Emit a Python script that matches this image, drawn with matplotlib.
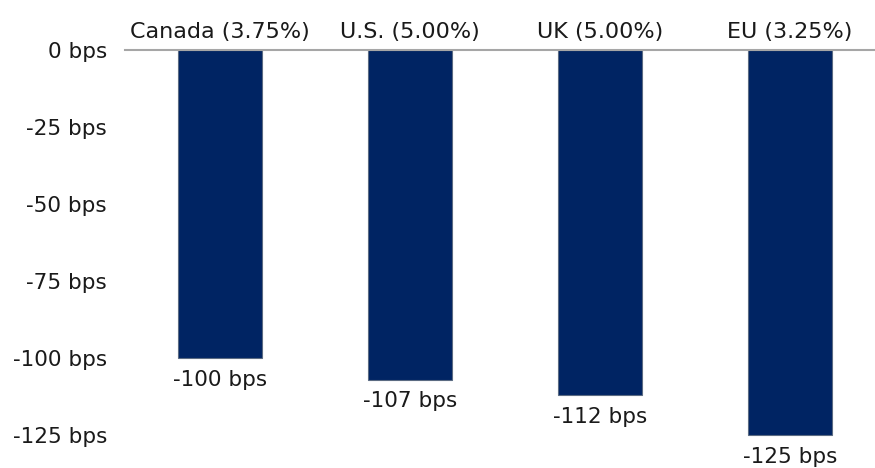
import matplotlib.pyplot as plt

plt.rcParams['font.family'] = ['DejaVu Sans']

regions = ["Canada (3.75%)", "U.S. (5.00%)", "UK (5.00%)", "EU (3.25%)"]
cuts = [-100, -107, -112, -125]
yticks = [0, -25, -50, -75, -100, -125]
ytick_labels = [f"{t} bps" for t in yticks]

W, H = 875, 468
fig = plt.figure(figsize=(W / 100, H / 100), dpi=100)
# axes from x=125 to 875, zero line at y=50, 3.08 px per bps
ax = fig.add_axes([125 / W, 0, 750 / W, (H - 50) / H])

x = range(len(regions))
ax.bar(x, cuts, width=0.44, color="#002463", edgecolor="#5b6b82", linewidth=0.8, zorder=2)

fs = 15.5
for i, v in enumerate(cuts):
    ax.text(i, v - 3.8, f"{v} bps", ha="center", va="top", fontsize=fs, color="#1a1a1a")
    ax.text(i, 2.6, regions[i], ha="center", va="bottom", fontsize=16, color="#1a1a1a",
            clip_on=False)

ax.set_xlim(-0.5, 3.447)
ax.set_ylim(-(H - 50) / 3.08, 0)
ax.set_yticks(yticks)
ax.set_yticklabels(ytick_labels, fontsize=fs, color="#1a1a1a")
ax.set_xticks([])
ax.tick_params(axis="y", length=0, pad=13)
for s in ["left", "right", "bottom"]:
    ax.spines[s].set_visible(False)
ax.spines["top"].set_color("#a6a6a6")
ax.spines["top"].set_linewidth(1.5)

fig.savefig("out.png", dpi=100)
